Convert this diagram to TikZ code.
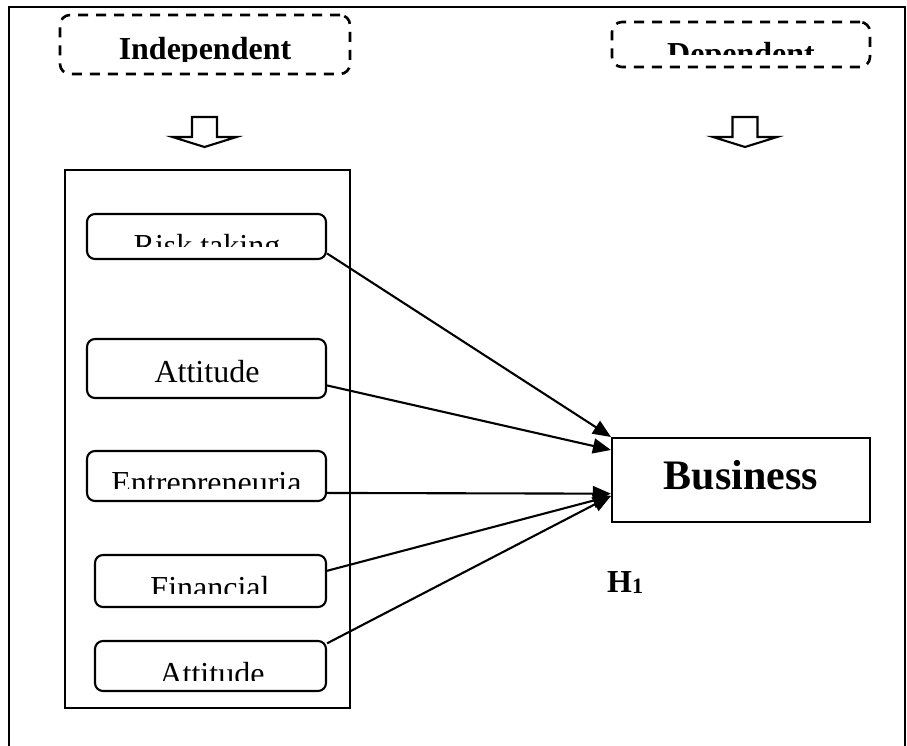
\documentclass[tikz,border=0pt]{standalone}
\usepackage{fontspec}
\setmainfont{Liberation Serif}
\usetikzlibrary{arrows.meta}

\tikzset{
  varbox/.style={draw,line width=2.1pt,rounded corners=8pt,inner sep=0pt},
  headbox/.style={draw,line width=2.6pt,dash pattern=on 10pt off 8pt,rounded corners=10pt,inner sep=0pt},
  lbl/.style={font=\fontsize{32}{36}\selectfont,inner sep=0pt,anchor=base},
  boldlbl/.style={lbl,font=\fontsize{32}{36}\selectfont\bfseries},
  link/.style={line width=2.1pt,-{Triangle[length=18pt,width=15pt]}}
}

\begin{document}
\begin{tikzpicture}[x=1pt,y=-1pt]
  \useasboundingbox (0,0) rectangle (907,746);
  % Ram
  \draw[line width=2.1pt] (9,746) -- (9,7) -- (905,7) -- (905,746);
  % Rubriker
  \node[headbox,minimum width=290pt,minimum height=59pt] (ind) at (205,44.5) {};
  \node[headbox,minimum width=258pt,minimum height=45pt] (dep) at (741,44.5) {};
  \begin{scope}
    \clip (60,15) rectangle (350,62);
    \node[boldlbl] (indt) at (205,60) {Independent};
  \end{scope}
  \begin{scope}
    \clip (612,22) rectangle (870,55);
    \node[boldlbl] (dept) at (741,65) {Dependent};
  \end{scope}
  % Pilar nedat
  \foreach \cx in {204.5,745}
    \draw[line width=2.1pt,line join=miter] (\cx-12.5,117) -- (\cx+12.5,117) -- (\cx+12.5,137)
      -- (\cx+32,137) -- (\cx,147) -- (\cx-32,137) -- (\cx-12.5,137) -- cycle;
  % Oberoende variabler
  \node[draw,line width=2.1pt,minimum width=285pt,minimum height=538pt] (indframe) at (207.5,439) {};
  \node[varbox,minimum width=239pt,minimum height=45pt] (risk) at (206.5,236.5) {};
  \node[varbox,minimum width=239pt,minimum height=59pt] (att) at (206.5,368.5) {};
  \node[varbox,minimum width=239pt,minimum height=50pt] (ent) at (206.5,476) {};
  \node[varbox,minimum width=231pt,minimum height=52pt] (fin) at (210.5,581) {};
  \node[varbox,minimum width=231pt,minimum height=50pt] (att2) at (210.5,666) {};
  \begin{scope}
    \clip (87,214) rectangle (326,246);
    \node[lbl] (riskt) at (207,256) {Risk taking};
  \end{scope}
  \node[lbl] (attt) at (207,382) {Attitude};
  \begin{scope}
    \clip (87,451) rectangle (326,488);
    \node[lbl] (entt) at (206.5,493) {Entrepreneuria};
  \end{scope}
  \begin{scope}
    \clip (95,555) rectangle (326,593);
    \node[lbl] (fint) at (210,598) {Financial};
  \end{scope}
  \begin{scope}
    \clip (95,641) rectangle (326,680);
    \node[lbl] (att2t) at (212,684) {Attitude};
  \end{scope}
  % Beroende variabel
  \node[draw,line width=2.1pt,minimum width=258pt,minimum height=84pt,inner sep=0pt] (bus) at (741,480) {};
  \node[lbl,font=\fontsize{42}{46}\selectfont\bfseries] (bust) at (741,489) {Business};
  \node[boldlbl,anchor=base west] (hyp) at (607,592) {H\raisebox{-1pt}{\fontsize{22}{22}\selectfont 1}};
  % Samband
  \draw[link] (risk.-8.8) -- (bus.north west);
  \draw[link] (att.-8.8) -- (bus.167.8);
  \draw[link] (ent.-8.6) -- (bus.186.2);
  \draw[link] (fin.5.4) -- (bus.187);
  \draw[link] (att2.11) -- (bus.187.5);
\end{tikzpicture}
\end{document}
